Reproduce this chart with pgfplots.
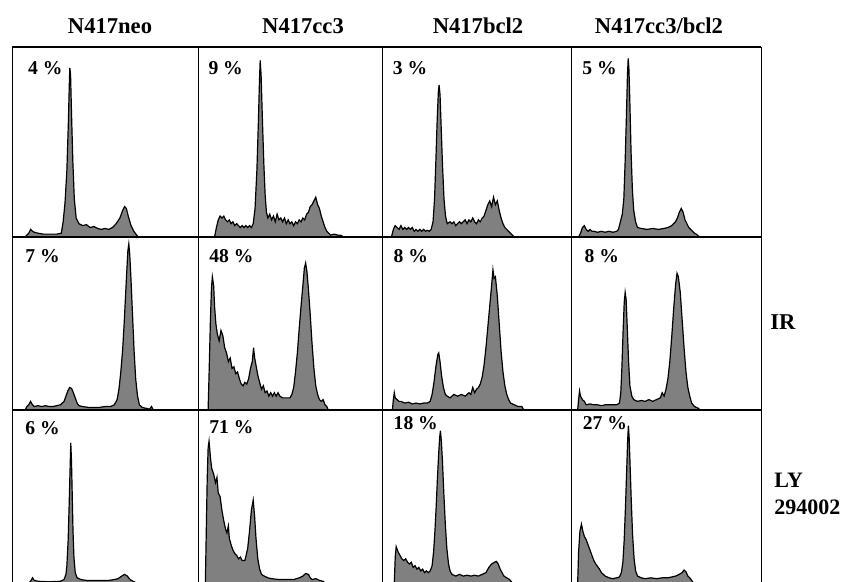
\documentclass[border=0pt]{standalone}
\usepackage{pgfplots}
\pgfplotsset{compat=1.18}
\usepackage{fontspec}
\setmainfont{Liberation Serif}

% one DNA histogram panel: 0..100 on both axes, no ticks
\pgfplotsset{
  panel/.style={
    scale only axis,
    xmin=0, xmax=100, ymin=0, ymax=100,
    ticks=none,
    separate axis lines,
    x axis line style={line width=0.9pt},
    y axis line style={line width=0.45pt},
  },
  hist/.style={fill=black!50, draw=black, line width=0.6pt},
}
\tikzset{pct/.style={anchor=west, inner sep=0pt, font=\fontsize{9.8}{11}\selectfont\bfseries}}

\begin{document}
\begin{tikzpicture}
\useasboundingbox (0,0) rectangle (422pt,-291pt);
\clip (0,0) rectangle (422pt,-291pt);

% column titles and row labels
\begin{scope}[every node/.style={font=\fontsize{11.3}{13}\selectfont\bfseries}]
\node at (55pt,-13pt) {N417neo};
\node at (151.5pt,-13pt) {N417cc3};
\node at (239pt,-13pt) {N417bcl2};
\node at (329.5pt,-13pt) {N417cc3/bcl2};
\node[anchor=west, inner sep=0pt] at (385pt,-161pt) {IR};
\node[anchor=west, inner sep=0pt, align=left, font=\fontsize{11}{13.5}\selectfont\bfseries] at (387pt,-247pt) {LY\\294002};
\end{scope}

%% row 1: untreated
\begin{axis}[panel, at={(6pt,-118.5pt)}, width=93pt, height=95pt]
\addplot[hist] coordinates {(7,0)(8,1)(9,2)(10,4)(11,3)(12,2.5)(14,2)(17,1.5)(20,1.5)(24,1.5)(26.5,2)(27.5,8)(28.5,18)(29.5,35)(30.3,60)(30.8,80)(31.1,89)(31.5,85)(32,65)(32.7,40)(33.5,20)(34.5,10)(36,7)(38,6)(40,6.5)(42,5)(44,5.5)(46,4.5)(48,4)(50,4.5)(52,4)(54,5)(56,7)(58,10)(59.5,14)(60.5,16)(61.5,15)(62.5,11)(64,6)(65.5,3)(67,1)(68,0)} \closedcycle;
\node[pct] at (axis cs:8.5,89) {4 \%};
\end{axis}

\begin{axis}[panel, at={(99pt,-118.5pt)}, width=92pt, height=95pt]
\addplot[hist] coordinates {(9,0)(10,5)(11,9)(12,11)(13,10)(14,11)(15,9)(16,8)(17,9)(18,7)(19,8)(20,6)(21,7)(22,6)(23,5)(24,6)(25,5)(26,6)(27,5)(28,6)(29,5)(30,7)(31,15)(32,35)(32.8,60)(33.4,82)(33.8,93)(34.3,85)(35,62)(35.8,38)(36.5,22)(37.2,13)(38,10)(39,12)(40,9)(41,11)(42,8)(43,12)(44,9)(45,10)(46,8)(47,10)(48,7)(49,9)(50,7)(51,8)(52,6)(53,8)(54,7)(55,9)(56,8)(57,10)(58,9)(59,12)(60,13)(61,16)(62,17)(63,19)(64,21)(65,17)(66,15)(67,11)(68,8)(69,5)(70,3)(71,2)(72,1)(74,1.5)(76,1)(78,0.8)(79,0)} \closedcycle;
\node[pct] at (axis cs:5.5,89) {9 \%};
\end{axis}

\begin{axis}[panel, at={(191pt,-118.5pt)}, width=94.5pt, height=95pt]
\addplot[hist] coordinates {(5,0)(6,4)(7,6)(8,5)(9,4)(10,6)(11,4)(12,5)(13,4)(14,5)(15,4)(16,5)(17,3)(18,4)(19,3)(20,4)(21,3)(22,4)(23,3)(24,3.5)(25,3)(26,4)(27,8)(27.8,20)(28.5,40)(29.2,62)(29.8,76)(30.2,80)(30.7,75)(31.3,58)(32,38)(32.8,20)(33.6,11)(34.5,7)(36,8)(37,7)(38,8)(39,6)(40,7)(41,8)(42,7)(43,8)(44,9)(45,7)(46,9)(47,8)(48,10)(49,8)(50,7)(51,9)(52,8)(53,10)(54,11)(55,14)(56,17)(57,19)(58,16)(59,21)(60,17)(61,19)(62,14)(63,10)(64,7)(65,5)(66,4)(67,3)(68,2)(69,1)(70,0)} \closedcycle;
\node[pct] at (axis cs:5.5,89) {3 \%};
\end{axis}

\begin{axis}[panel, at={(285.5pt,-118.5pt)}, width=95pt, height=95pt]
\addplot[hist] coordinates {(4,0)(5,2)(6,5)(7,6)(8,4)(9,3)(10,4)(11,3)(12,3)(14,2.5)(16,3)(18,2.5)(20,3)(22,2.5)(24,3)(25,4)(26,8)(27,12)(27.8,20)(28.5,40)(29.2,65)(29.7,85)(30.1,94)(30.5,88)(31,70)(31.6,45)(32.3,25)(33,14)(34,8)(35,5)(37,4.5)(40,4)(43,4.5)(46,4)(49,4.5)(51,5)(53,6)(54,7)(55,8)(56,10)(57,13)(58,15)(59,13)(60,9)(61,7)(62,5)(63,4)(64,3)(65,2)(66,1.5)(67,0.5)(68,0)} \closedcycle;
\node[pct] at (axis cs:5.8,89) {5 \%};
\end{axis}

%% row 2: IR
\begin{axis}[panel, at={(6pt,-205pt)}, width=93pt, height=86.5pt]
\addplot[hist] coordinates {(7,0)(8,2)(9,3)(10,5)(11,3)(12,2)(14,2.5)(16,2)(18,2.5)(20,2)(22,2)(24,2.5)(26,3)(28,5)(29,8)(30,11)(31,13)(32,12.5)(33,10)(34,7)(35,4)(36,2.5)(38,2)(41,1.5)(44,1.5)(47,1.5)(50,2)(53,2)(55,3)(56.5,6)(57.5,12)(58.5,22)(59.5,35)(60.3,50)(61,65)(61.7,80)(62.3,92)(62.8,96)(63.3,90)(64,75)(64.8,55)(65.6,35)(66.5,18)(67.5,8)(68.5,3)(70,1.5)(72,1)(74,0.5)(75,2)(76,0)} \closedcycle;
\node[pct] at (axis cs:7,89) {7 \%};
\end{axis}

\begin{axis}[panel, at={(99pt,-205pt)}, width=92pt, height=86.5pt]
\addplot[hist] coordinates {(5.5,0)(6,20)(6.7,50)(7.3,70)(7.8,77)(8.5,72)(9,60)(9.7,50)(10.5,44)(11.5,40)(12.5,46)(13.5,43)(14.5,36)(15.5,33)(16.5,28)(17.5,30)(18.5,24)(19.5,25)(20.5,21)(21.5,22)(22.5,18)(23.5,15)(24.5,14)(25.5,16)(26.5,15)(27.5,18)(28.5,24)(29.5,28)(30.2,36)(30.8,30)(31.5,26)(32.5,20)(33.5,16)(34.5,12)(35.5,14)(36.5,10)(37.5,11)(38.5,8)(39.5,10)(40.5,8)(41.5,10)(42.5,8)(43.5,10)(44.5,8)(46,7)(48,7)(50,7)(51,9)(52,13)(53,22)(54,33)(55,47)(56,60)(57,72)(57.8,82)(58.5,85)(59.2,80)(60,70)(61,55)(62,38)(63,24)(64,14)(65,9)(66,6)(67,5)(68,6)(69,3)(70,2)(70.8,0)} \closedcycle;
\node[pct] at (axis cs:6,89) {48 \%};
\end{axis}

\begin{axis}[panel, at={(191pt,-205pt)}, width=94.5pt, height=86.5pt]
\addplot[hist] coordinates {(5.5,0)(6,6)(6.5,10)(7,7)(8,6)(9,5)(10,5)(12,4)(14,4.5)(16,3.5)(18,4)(20,3.5)(22,4)(24,4)(25.5,5)(26.5,9)(27.5,16)(28.5,25)(29.5,32)(30,33)(30.7,28)(31.5,20)(32.5,13)(33.5,9)(34.5,8)(36,7)(38,9)(40,8)(42,9)(44,8)(46,10)(47,9)(48,13)(49,10)(50,12)(51,13)(52,15)(53,19)(54,26)(55,36)(56,48)(57,60)(58,72)(58.7,81)(59.3,76)(60,77)(61,66)(62,50)(63,34)(64,22)(65,14)(66,9)(67,6)(68,4)(70,3)(72,2)(74,2)(75,0)} \closedcycle;
\node[pct] at (axis cs:6,89) {8 \%};
\end{axis}

\begin{axis}[panel, at={(285.5pt,-205pt)}, width=95pt, height=86.5pt]
\addplot[hist] coordinates {(3.5,0)(4,6)(4.5,11)(5,8)(6,6)(7,5)(8,3)(10,3.5)(12,3)(14,3)(16,2.5)(18,3)(20,3)(22,3)(24,3)(25.5,4)(26.2,10)(26.8,25)(27.4,45)(28,62)(28.5,68)(29,64)(29.6,48)(30.3,28)(31,14)(32,8)(33,6)(35,5)(37,5.5)(39,5)(41,6)(43,5)(45,6)(47,7)(48,10)(49,8)(50,12)(51,18)(52,28)(53,42)(54,58)(55,72)(55.8,79)(56.5,77)(57.5,68)(58.5,52)(59.5,36)(60.5,22)(61.5,13)(62.5,8)(63.5,4)(65,2)(67,1)(68,0)} \closedcycle;
\node[pct] at (axis cs:7,89) {8 \%};
\end{axis}

%% row 3: LY 294002
\begin{axis}[panel, at={(6pt,-291.5pt)}, width=93pt, height=86.5pt]
\addplot[hist] coordinates {(9,0)(10,1)(11,3)(12,1.5)(14,1)(18,0.8)(22,0.8)(26,1)(28,2)(29,5)(29.5,10)(30.2,25)(30.8,48)(31.2,65)(31.6,81)(32,70)(32.4,50)(32.8,30)(33.3,15)(34,6)(35,3)(37,2)(40,1.5)(44,1.5)(48,1.5)(52,1.5)(55,2)(57,2.5)(59,4)(60.5,5)(62,4)(63.5,2)(65,1)(67,0)} \closedcycle;
\node[pct] at (axis cs:7,89.5) {6 \%};
\end{axis}

\begin{axis}[panel, at={(99pt,-291.5pt)}, width=92pt, height=86.5pt]
\addplot[hist] coordinates {(4,0)(4.5,30)(5,60)(5.5,78)(6,82)(6.8,72)(7.5,66)(8.5,63)(9.5,58)(10.3,61)(11,52)(12,50)(13,42)(14,36)(15,31)(15.7,29)(16.5,33)(17,26)(18,22)(19,19)(20,17)(21,16)(22,14)(23,15)(24,13)(25.5,13)(27,20)(28,30)(29,42)(30,48)(30.8,38)(31.5,26)(32.5,14)(33.5,8)(34.5,5)(36,4)(38,3)(40,2.5)(44,2)(48,2)(52,2)(55,3)(57,4)(58.5,5.5)(60,5)(61,3)(62,2)(64,2.5)(66,1.5)(68,1)(69,0)} \closedcycle;
\node[pct] at (axis cs:6,90) {71 \%};
\end{axis}

\begin{axis}[panel, at={(191pt,-291.5pt)}, width=94.5pt, height=86.5pt]
\addplot[hist] coordinates {(6.5,0)(7,15)(7.5,21)(8.5,18)(9.5,16)(10.5,14)(11.5,13)(12.5,14)(13.5,12)(14.5,11)(15.5,12)(16.5,9)(17.5,10)(18.5,8)(19.5,9)(20.5,7)(21.5,8)(22.5,6)(23.5,7)(24.5,6)(25.5,7)(26.5,10)(27.3,18)(28,30)(28.7,45)(29.3,60)(30,75)(30.5,84)(30.9,88)(31.4,82)(32,70)(32.7,52)(33.5,34)(34.3,20)(35.2,11)(36,7)(37,5)(39,4)(41,5)(43,4)(45,4.5)(47,4)(49,4.5)(51,4)(53,5)(55,6)(56.5,9)(58,11)(59.5,12)(60.5,12.5)(61.5,11)(62.5,8)(63.5,6)(64.5,4)(66,3)(67.5,2)(69,0)} \closedcycle;
\node[pct] at (axis cs:6,92.5) {18 \%};
\end{axis}

\begin{axis}[panel, at={(285.5pt,-291.5pt)}, width=95pt, height=86.5pt]
\addplot[hist] coordinates {(3.5,0)(4,18)(4.7,30)(5.5,34)(6.2,30)(7,27)(8,25)(9,22)(10,19)(11,16)(12,13)(13,11)(14,9.5)(15,8)(16,6)(17,5)(18,4)(19,3.5)(20,3)(22,2.5)(24,3)(25.5,3.5)(26.5,6)(27.3,12)(28,25)(28.7,45)(29.3,65)(29.8,82)(30.2,91)(30.6,84)(31.1,68)(31.7,48)(32.4,28)(33.2,14)(34,7)(35,4)(37,3)(39,2.5)(42,3)(45,2.5)(48,3)(51,3)(53,3.5)(55,4)(57,5)(58.5,6)(59.5,7.5)(60.5,6.5)(61.5,4)(62.5,3)(63.5,1.5)(64.5,0)} \closedcycle;
\node[pct] at (axis cs:6,92.5) {27 \%};
\end{axis}

\end{tikzpicture}
\end{document}
